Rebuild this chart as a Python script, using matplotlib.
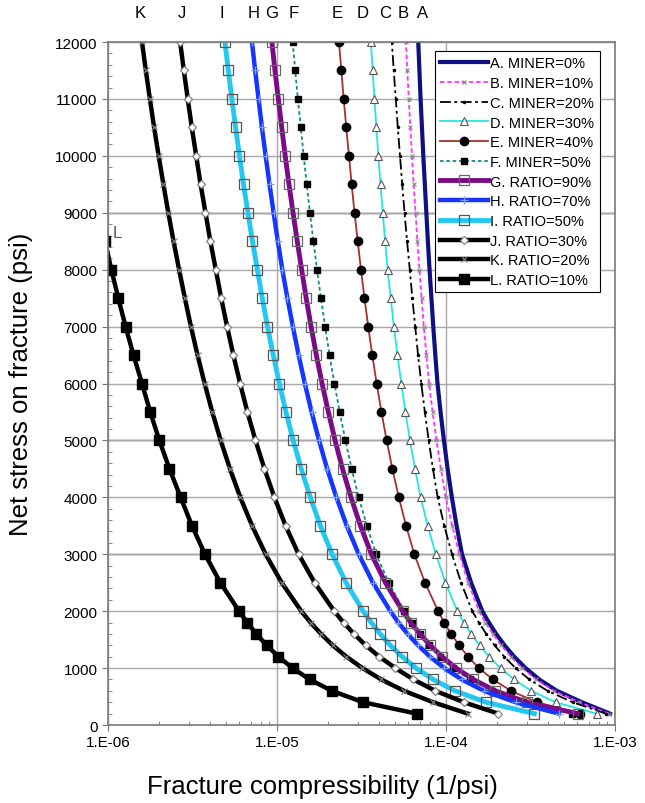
import numpy as np
import matplotlib.pyplot as plt

plt.rcParams['font.family'] = ['Liberation Sans', 'DejaVu Sans']

# net stress (psi) and fracture compressibility (1/psi)
stress = [200, 400, 600, 800, 1000, 1200, 1400, 1600, 1800, 2000,
          2500, 3000, 3500, 4000, 4500, 5000, 5500, 6000, 6500, 7000,
          7500, 8000, 8500, 9000, 9500, 10000, 10500, 11000, 11500, 12000]

cf_A = [9.354e-4, 6.383e-4, 4.539e-4, 3.565e-4, 2.958e-4, 2.535e-4, 2.223e-4, 1.982e-4, 1.795e-4, 1.641e-4,
        1.409e-4, 1.245e-4, 1.156e-4, 1.084e-4, 1.023e-4, 9.727e-5, 9.290e-5, 8.913e-5, 8.650e-5, 8.414e-5,
        8.204e-5, 7.998e-5, 7.816e-5, 7.656e-5, 7.499e-5, 7.345e-5, 7.211e-5, 7.079e-5, 6.966e-5, 6.855e-5]
cf_B = [9.204e-4, 6.152e-4, 4.365e-4, 3.412e-4, 2.825e-4, 2.421e-4, 2.123e-4, 1.892e-4, 1.714e-4, 1.567e-4,
        1.355e-4, 1.202e-4, 1.089e-4, 9.977e-5, 9.333e-5, 8.790e-5, 8.337e-5, 7.943e-5, 7.656e-5, 7.396e-5,
        7.178e-5, 6.966e-5, 6.776e-5, 6.607e-5, 6.442e-5, 6.295e-5, 6.152e-5, 6.026e-5, 5.902e-5, 5.794e-5]
cf_C = [8.831e-4, 5.623e-4, 3.990e-4, 3.119e-4, 2.582e-4, 2.213e-4, 1.941e-4, 1.730e-4, 1.567e-4, 1.432e-4,
        1.230e-4, 1.086e-4, 9.772e-5, 8.933e-5, 8.375e-5, 7.907e-5, 7.499e-5, 7.145e-5, 6.839e-5, 6.577e-5,
        6.324e-5, 6.109e-5, 5.888e-5, 5.689e-5, 5.508e-5, 5.346e-5, 5.188e-5, 5.047e-5, 4.909e-5, 4.786e-5]
cf_D = [7.780e-4, 4.467e-4, 3.199e-4, 2.529e-4, 2.104e-4, 1.803e-4, 1.581e-4, 1.409e-4, 1.276e-4, 1.167e-4,
        9.931e-5, 8.710e-5, 7.798e-5, 7.079e-5, 6.561e-5, 6.124e-5, 5.754e-5, 5.445e-5, 5.164e-5, 4.920e-5,
        4.710e-5, 4.519e-5, 4.365e-5, 4.227e-5, 4.102e-5, 3.981e-5, 3.873e-5, 3.776e-5, 3.681e-5, 3.597e-5]
cf_E = [6.252e-4, 3.443e-4, 2.427e-4, 1.897e-4, 1.567e-4, 1.352e-4, 1.197e-4, 1.074e-4, 9.772e-5, 8.995e-5,
        7.516e-5, 6.501e-5, 5.808e-5, 5.260e-5, 4.819e-5, 4.457e-5, 4.150e-5, 3.890e-5, 3.664e-5, 3.467e-5,
        3.296e-5, 3.141e-5, 3.006e-5, 2.877e-5, 2.767e-5, 2.667e-5, 2.570e-5, 2.483e-5, 2.404e-5, 2.328e-5]
cf_F = [5.546e-4, 2.871e-4, 1.875e-4, 1.387e-4, 1.096e-4, 9.226e-5, 7.962e-5, 7.015e-5, 6.281e-5, 5.675e-5,
        4.592e-5, 3.864e-5, 3.404e-5, 3.048e-5, 2.767e-5, 2.541e-5, 2.350e-5, 2.188e-5, 2.046e-5, 1.928e-5,
        1.820e-5, 1.726e-5, 1.644e-5, 1.567e-5, 1.500e-5, 1.439e-5, 1.384e-5, 1.330e-5, 1.282e-5, 1.239e-5]
cf_G = [6.012e-4, 3.006e-4, 1.963e-4, 1.452e-4, 1.148e-4, 9.484e-5, 8.072e-5, 7.015e-5, 6.194e-5, 5.546e-5,
        4.385e-5, 3.622e-5, 3.119e-5, 2.742e-5, 2.443e-5, 2.208e-5, 2.014e-5, 1.849e-5, 1.710e-5, 1.592e-5,
        1.489e-5, 1.400e-5, 1.318e-5, 1.245e-5, 1.178e-5, 1.119e-5, 1.067e-5, 1.019e-5, 9.727e-6, 9.333e-6]
cf_H = [4.656e-4, 2.582e-4, 1.679e-4, 1.239e-4, 9.772e-5, 8.054e-5, 6.839e-5, 5.929e-5, 5.236e-5, 4.688e-5,
        3.698e-5, 3.048e-5, 2.588e-5, 2.249e-5, 1.982e-5, 1.774e-5, 1.603e-5, 1.462e-5, 1.343e-5, 1.242e-5,
        1.153e-5, 1.076e-5, 1.012e-5, 9.550e-6, 9.036e-6, 8.570e-6, 8.147e-6, 7.780e-6, 7.430e-6, 7.112e-6]
cf_I = [3.334e-4, 1.726e-4, 1.132e-4, 8.395e-5, 6.653e-5, 5.508e-5, 4.688e-5, 4.083e-5, 3.614e-5, 3.236e-5,
        2.564e-5, 2.123e-5, 1.807e-5, 1.574e-5, 1.393e-5, 1.247e-5, 1.130e-5, 1.033e-5, 9.506e-6, 8.790e-6,
        8.185e-6, 7.656e-6, 7.161e-6, 6.730e-6, 6.339e-6, 5.998e-6, 5.689e-6, 5.408e-6, 5.152e-6, 4.920e-6]
cf_J = [2.042e-4, 1.276e-4, 8.670e-5, 6.412e-5, 5.023e-5, 4.036e-5, 3.350e-5, 2.858e-5, 2.477e-5, 2.183e-5,
        1.671e-5, 1.343e-5, 1.125e-5, 9.661e-6, 8.433e-6, 7.464e-6, 6.683e-6, 6.053e-6, 5.521e-6, 5.070e-6,
        4.677e-6, 4.345e-6, 4.036e-6, 3.776e-6, 3.532e-6, 3.327e-6, 3.133e-6, 2.965e-6, 2.812e-6, 2.673e-6]
cf_K = [1.346e-4, 8.395e-5, 5.649e-5, 4.140e-5, 3.206e-5, 2.576e-5, 2.138e-5, 1.824e-5, 1.581e-5, 1.393e-5,
        1.067e-5, 8.570e-6, 7.129e-6, 6.067e-6, 5.272e-6, 4.645e-6, 4.140e-6, 3.733e-6, 3.388e-6, 3.097e-6,
        2.851e-6, 2.636e-6, 2.443e-6, 2.275e-6, 2.128e-6, 1.995e-6, 1.875e-6, 1.770e-6, 1.675e-6, 1.589e-6]

stress_L = [200, 400, 600, 800, 1000, 1200, 1400, 1600, 1800, 2000,
            2500, 3000, 3500, 4000, 4500, 5000, 5500, 6000, 6500, 7000,
            7500, 8000, 8500]
cf_L = [6.699e-5, 3.236e-5, 2.113e-5, 1.563e-5, 1.236e-5, 1.021e-5, 8.690e-6, 7.551e-6, 6.668e-6, 5.970e-6,
        4.624e-6, 3.750e-6, 3.141e-6, 2.692e-6, 2.312e-6, 2.014e-6, 1.778e-6, 1.589e-6, 1.416e-6, 1.271e-6,
        1.151e-6, 1.047e-6, 9.594e-7]

labels = ['A. MINER=0%', 'B. MINER=10%', 'C. MINER=20%', 'D. MINER=30%',
          'E. MINER=40%', 'F. MINER=50%', 'G. RATIO=90%', 'H. RATIO=70%',
          'I. RATIO=50%', 'J. RATIO=30%', 'K. RATIO=20%', 'L. RATIO=10%']
letters = ['A', 'B', 'C', 'D', 'E', 'F', 'G', 'H', 'I', 'J', 'K']
# nudges (points) so the top letters sit as in the original
letter_dx = [3, -2, -5, -6, -1, 1, 0, 1, -2, 1, -1]

curves = [cf_A, cf_B, cf_C, cf_D, cf_E, cf_F, cf_G, cf_H, cf_I, cf_J, cf_K]

styles = [
    dict(color='#101080', lw=3.0, ls='-'),
    dict(color='#ff33ff', lw=1.3, ls=(0, (2.5, 1.5)), marker='x', ms=3, mec='#888888', mew=0.8),
    dict(color='black', lw=1.3, ls=(0, (6, 2, 1.5, 2)), marker='.', ms=3),
    dict(color='#22e6e6', lw=1.3, ls='-', marker='^', ms=6, mfc='white', mec='#555555', mew=0.8),
    dict(color='#a5302c', lw=1.3, ls='-', marker='o', ms=6, mfc='black', mec='black'),
    dict(color='#138a8a', lw=1.3, ls=(0, (2, 1.5)), marker='s', ms=4.5, mfc='black', mec='black'),
    dict(color='#7b0a86', lw=3.5, ls='-', marker='s', ms=7, mfc='none', mec='#666666', mew=0.9),
    dict(color='#1436ff', lw=3.2, ls='-', marker='+', ms=6, mec='#7f9cff', mew=0.9),
    dict(color='#22c8f2', lw=3.5, ls='-', marker='s', ms=7, mfc='none', mec='#555555', mew=0.9),
    dict(color='black', lw=3.2, ls='-', marker='D', ms=4.5, mfc='white', mec='#777777', mew=0.8),
    dict(color='black', lw=3.2, ls='-', marker='x', ms=5, mec='#888888', mew=0.8),
]
style_L = dict(color='black', lw=3.2, ls='-', marker='s', ms=6.5, mfc='black', mec='black')

fig = plt.figure(figsize=(6.45, 8.04), dpi=100)
ax = fig.add_axes([0.1674, 0.097, 0.786, 0.8495])

for cf, st, lab in zip(curves, styles, labels[:11]):
    ax.plot(cf, stress, label=lab, **st)
ax.plot(cf_L, stress_L, label=labels[11], **style_L)

ax.set_xscale('log')
ax.set_xlim(1e-6, 1e-3)
ax.set_ylim(0, 12000)
ax.set_xticks([1e-6, 1e-5, 1e-4, 1e-3])
ax.set_xticklabels(['1.E-06', '1.E-05', '1.E-04', '1.E-03'])
ax.set_yticks(np.arange(0, 12001, 1000))
ax.set_yticks(np.arange(0, 12001, 200), minor=True)

ax.grid(True, which='major', color='#a8a8a8', lw=1.0)
for yy in [3000, 5000, 9000]:
    ax.axhline(yy, color='#505050', lw=1.0, zorder=0.5)
ax.set_axisbelow(True)

ax.tick_params(axis='both', which='major', direction='out', length=4, labelsize=11, color='#777777')
ax.tick_params(axis='both', which='minor', direction='in', length=3, color='#777777')
for sp in ax.spines.values():
    sp.set_color('#7a7a7a')
    sp.set_linewidth(1.2)

ax.set_xlabel('Fracture compressibility (1/psi)', fontsize=18.5)
ax.set_ylabel('Net stress on fracture (psi)', fontsize=18.5)
ax.xaxis.set_label_coords(0.423, -0.072)
ax.yaxis.set_label_coords(-0.148, 0.5)

# curve letters along the top edge
for let, cf, dx in zip(letters, curves, letter_dx):
    ax.annotate(let, (cf[-1], 12000), xytext=(dx, 16), textcoords='offset points',
                ha='center', va='bottom', fontsize=12, annotation_clip=False)
ax.text(1.13e-6, 8660, 'L', fontsize=12, color='#555555', ha='center', va='center')

leg = ax.legend(loc='upper right', bbox_to_anchor=(0.984, 0.997), fontsize=10.5,
                handlelength=3.3, numpoints=1, labelspacing=0.39, borderpad=0.35,
                handletextpad=0.15, fancybox=False, framealpha=1, edgecolor='black')
leg.get_frame().set_linewidth(0.8)

fig.savefig('out.png', dpi=100)
